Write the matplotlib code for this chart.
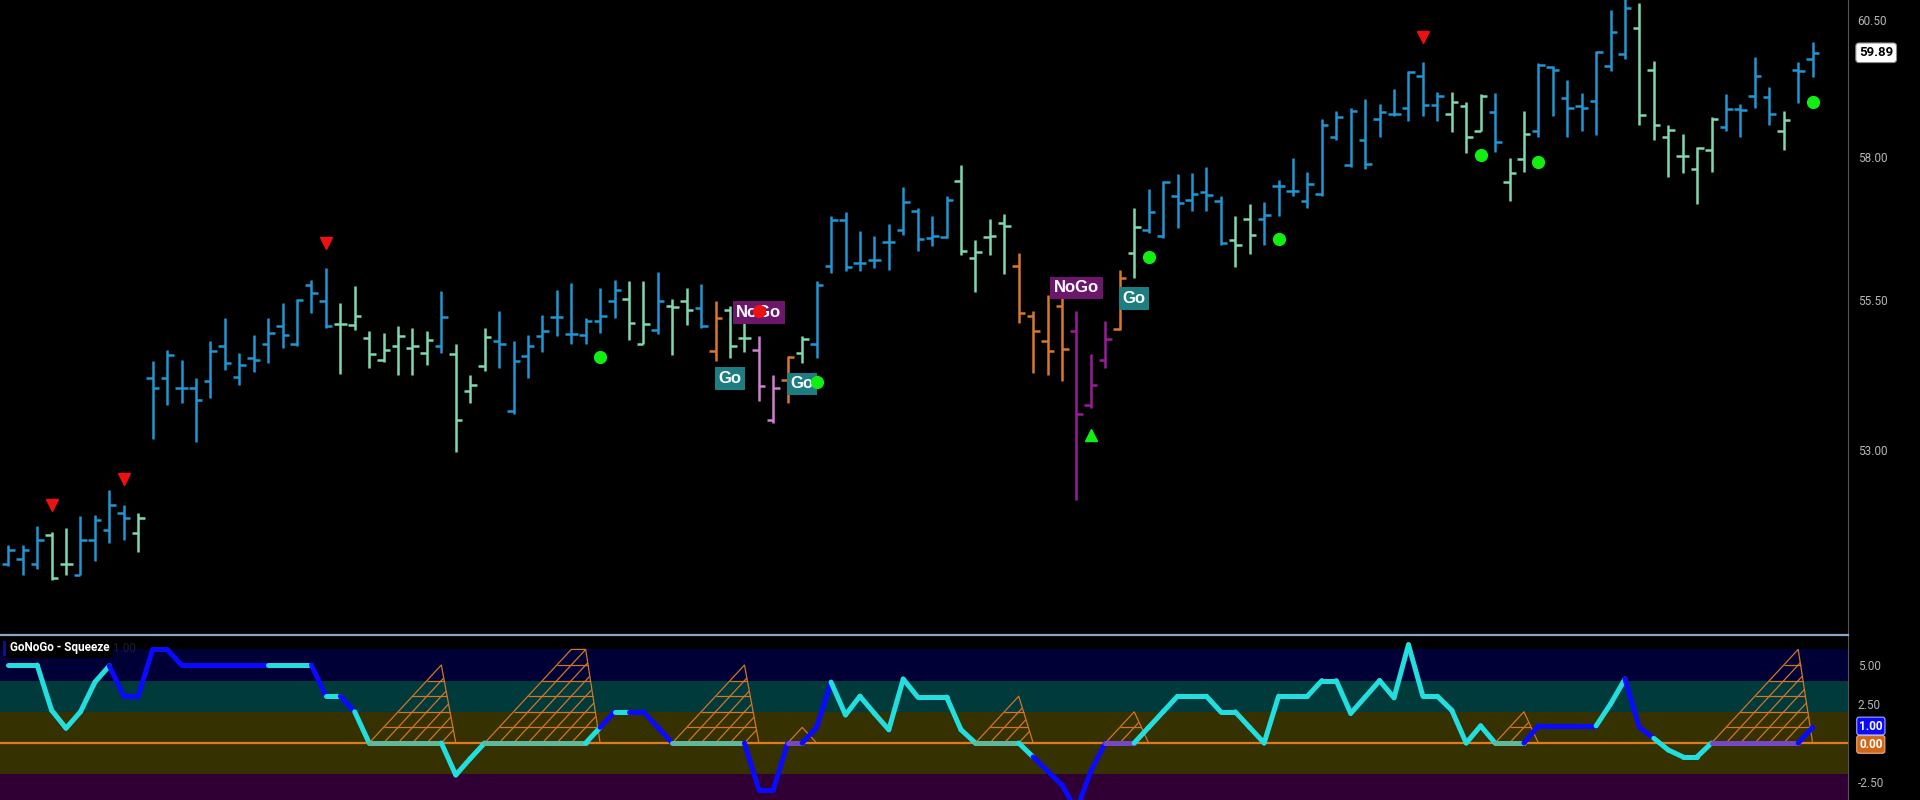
import matplotlib.pyplot as plt
import numpy as np
from matplotlib.collections import LineCollection
from matplotlib.lines import Line2D
from matplotlib.patches import Rectangle
from matplotlib.ticker import FixedLocator, FormatStrFormatter, NullLocator

plt.rcParams['font.family'] = ['Roboto', 'DejaVu Sans']

# --- price bars (one per session) ---
opens = [51.17, 51.26, 51.17, 51.63, 51.17, 51.01, 51.55, 51.71, 51.98, 51.66,
         54.19, 54.19, 54.02, 54.02, 54.14, 54.73, 54.21, 54.53, 54.75, 55.06,
         54.76, 55.76, 55.48, 55.10, 55.08, 54.86, 54.49, 54.73, 54.69, 54.61,
         54.73, 54.59, 53.97, 54.39, 54.81, 53.64, 54.56, 54.90, 55.21, 54.93,
         54.91, 55.15, 55.48, 55.53, 54.76, 55.00, 55.40, 55.48, 55.37, 54.64,
         55.33, 54.86, 54.66, 53.49, 54.16, 54.61, 54.75, 56.09, 56.88, 56.14,
         56.19, 56.50, 56.71, 57.05, 56.57, 56.59, 57.57, 56.22, 56.59, 56.83,
         56.09, 55.23, 54.81, 55.40, 54.98, 53.74, 54.49, 55.01, 56.31, 56.71,
         56.60, 57.31, 57.24, 57.38, 57.22, 56.53, 56.90, 56.91, 57.48, 57.40,
         57.22, 57.34, 58.35, 57.85, 58.31, 58.68, 58.77, 58.88, 59.46, 58.93,
         58.78, 58.91, 58.47, 58.80, 57.55, 57.96, 58.47, 59.62, 59.06, 58.91,
         59.00, 59.64, 59.86, 60.35, 59.57, 58.36, 58.02, 57.78, 58.13, 58.53,
         58.86, 59.09, 59.08, 58.46, 59.57, 59.77]
highs = [51.47, 51.47, 51.77, 51.68, 51.74, 51.93, 51.96, 52.36, 52.12, 51.98,
         54.48, 54.66, 54.49, 54.19, 54.81, 55.20, 54.61, 54.91, 55.20, 55.45,
         55.53, 55.84, 56.05, 55.45, 55.74, 54.98, 54.95, 55.06, 55.03, 54.98,
         55.66, 54.76, 54.24, 55.03, 55.32, 54.81, 54.91, 55.25, 55.67, 55.79,
         55.20, 55.71, 55.84, 55.83, 55.83, 55.98, 55.53, 55.71, 55.78, 55.48,
         55.40, 55.20, 54.90, 54.24, 54.56, 54.90, 55.83, 56.95, 57.03, 56.69,
         56.60, 56.81, 57.47, 57.10, 56.95, 57.31, 57.86, 56.53, 56.91, 57.00,
         56.31, 55.32, 55.59, 55.67, 55.32, 54.59, 55.15, 56.02, 57.09, 57.43,
         57.57, 57.69, 57.72, 57.83, 57.31, 56.95, 57.17, 57.21, 57.60, 57.98,
         57.74, 58.68, 58.82, 58.89, 59.04, 58.95, 59.22, 59.55, 59.72, 59.17,
         59.17, 58.99, 59.13, 59.15, 57.98, 58.82, 59.70, 59.64, 59.39, 59.15,
         59.92, 60.68, 60.95, 60.81, 59.73, 58.57, 58.42, 58.18, 58.71, 59.13,
         58.95, 59.82, 59.26, 58.82, 59.72, 60.08]
lows = [51.14, 51.01, 51.09, 50.93, 51.01, 51.01, 51.22, 51.50, 51.55, 51.36,
        53.18, 53.74, 53.77, 53.13, 53.86, 54.33, 54.07, 54.29, 54.44, 54.69,
        54.73, 55.28, 55.03, 54.26, 55.00, 54.36, 54.46, 54.24, 54.24, 54.41,
        54.61, 52.97, 53.77, 54.31, 54.36, 53.60, 54.19, 54.63, 54.90, 54.75,
        54.75, 54.95, 55.20, 54.83, 54.75, 54.93, 54.58, 55.08, 55.03, 54.48,
        54.53, 54.63, 53.81, 53.44, 53.77, 54.44, 54.53, 55.97, 56.00, 56.00,
        56.05, 56.02, 56.62, 56.35, 56.43, 56.57, 56.28, 55.64, 56.28, 55.95,
        55.11, 54.28, 54.24, 54.14, 52.20, 53.69, 54.36, 55.00, 55.88, 56.66,
        56.57, 56.74, 57.05, 57.05, 56.45, 56.07, 56.29, 56.45, 56.95, 57.31,
        57.09, 57.31, 58.31, 57.82, 57.78, 58.36, 58.73, 58.64, 58.73, 58.64,
        58.44, 58.07, 58.46, 58.09, 57.22, 57.73, 58.36, 58.73, 58.36, 58.47,
        58.40, 59.55, 59.77, 58.57, 58.31, 57.65, 57.71, 57.16, 57.73, 58.46,
        58.36, 58.89, 58.57, 58.13, 58.97, 59.44]
closes = [51.39, 51.39, 51.55, 50.95, 51.17, 51.55, 51.88, 52.12, 51.90, 51.90,
          54.02, 54.58, 54.02, 53.82, 54.64, 54.44, 54.41, 54.49, 54.95, 54.91,
          55.50, 55.62, 55.06, 55.10, 55.23, 54.59, 54.66, 54.90, 54.73, 54.83,
          55.21, 53.49, 54.07, 54.88, 54.75, 54.48, 54.73, 54.98, 55.21, 54.93,
          55.15, 55.23, 55.67, 55.11, 55.10, 55.48, 55.38, 55.33, 55.06, 55.20,
          54.73, 54.86, 54.06, 54.02, 54.54, 54.85, 55.76, 56.88, 56.07, 56.14,
          56.19, 56.50, 57.21, 56.55, 56.60, 57.24, 56.35, 56.33, 56.60, 56.79,
          55.28, 54.98, 54.64, 54.68, 53.60, 54.07, 54.85, 55.88, 56.76, 57.02,
          57.55, 57.19, 57.35, 57.33, 56.48, 56.45, 56.62, 56.98, 57.48, 57.40,
          57.52, 58.58, 58.71, 58.82, 57.87, 58.80, 58.77, 59.53, 58.93, 59.09,
          58.99, 58.35, 59.09, 58.26, 57.72, 58.42, 59.66, 59.57, 58.88, 58.89,
          59.90, 60.28, 60.72, 58.75, 58.58, 58.49, 58.02, 58.16, 58.69, 58.86,
          58.84, 59.46, 58.78, 58.66, 59.55, 59.89]
# GoNoGo trend per bar: B strong go, G weak go, O weak nogo, P/M nogo
trend = ("BBBGGBBBBG" "BBBBBBBBBBBBBGGGGGGGB" "GGGBBBBBBBBBGGBGGBOGGPPOG"
         "BBBBBBBBBBGGGGOOOOMMMOG" "BBBBBBGGBBBBBBBBBBBBBGGGBGG"
         "BBBBBBBGGGGGGBBBBGBB")

# signals
down_idx = [3, 8, 22, 98]
down_px = [52.12, 52.53, 56.48, 60.19]
nogo_dot_idx = [52]
nogo_dot_px = [55.32]
go_dot_idx = [41, 56, 79, 88, 102, 106, 125]
go_dot_px = [54.54, 54.12, 56.24, 56.55, 58.04, 57.91, 58.99]
up_idx = [75]
up_px = [53.24]
tag_text = ["NoGo", "Go", "Go", "NoGo", "Go"]
tag_idx = [52.0, 50.0, 55.0, 74.0, 78.0]
tag_px = [55.29, 54.18, 54.09, 55.71, 55.53]

# --- oscillator panel ---
osc = [5.0, 5.0, 5.0, 2.1, 0.95, 2.0, 3.9, 4.95, 3.0, 3.0,
       6.0, 6.0, 5.0, 5.0, 5.0, 5.0, 5.0, 5.0, 5.0, 5.0,
       5.0, 5.0, 3.0, 3.0, 2.0, 0.0, 0.0, 0.0, 0.0, 0.0,
       0.0, -2.05, -1.0, 0.0, 0.0, 0.0, 0.0, 0.0, 0.0, 0.0,
       0.0, 1.0, 2.0, 2.0, 2.0, 1.0, 0.0, 0.0, 0.0, 0.0,
       0.0, 0.0, -3.0, -3.0, 0.0, 0.0, 1.0, 3.9, 1.8, 3.0,
       1.9, 0.85, 4.1, 2.95, 2.95, 2.95, 0.85, 0.0, 0.0, 0.0,
       0.0, -0.9, -1.8, -2.7, -4.3, -1.8, 0.0, 0.0, 0.0, 1.0,
       2.0, 3.0, 3.0, 3.0, 2.0, 2.0, 1.0, 0.0, 3.0, 3.0,
       3.0, 4.0, 4.0, 1.9, 2.95, 4.0, 2.9, 6.3, 3.0, 3.0,
       2.1, 0.0, 1.1, 0.0, 0.0, 0.0, 1.1, 1.1, 1.1, 1.1,
       1.1, 2.5, 4.1, 1.0, 0.3, -0.45, -0.88, -0.88, 0.0, 0.0,
       0.0, 0.0, 0.0, 0.0, 0.0, 1.0]
osc_trend = ("cccccccc" "bbbbbbbbbbb" "ccc" "b" "c" "b" "ccccccccccccccccc" "b" "c"
             "bbb" "ccccc" "bbbbbb" "cccccccccccccc" "bbbbbbb"
             "ccccccccccccccccccccccccccc" "bbbbb" "cc" "bb" "cccc" "bbbbbbb")
squeeze = [0, 0, 0, 0, 0, 0, 0, 0, 0, 0,
           0, 0, 0, 0, 0, 0, 0, 0, 0, 0,
           0, 0, 0, 0, 0, 0, 1, 2, 3, 4,
           5, 0, 0, 0, 1, 2, 3, 4, 5, 6,
           6, 0, 0, 0, 0, 0, 0, 1, 2, 3,
           4, 5, 0, 0, 0, 1, 0, 0, 0, 0,
           0, 0, 0, 0, 0, 0, 0, 0, 1, 2,
           3, 0, 0, 0, 0, 0, 0, 1, 2, 0,
           0, 0, 0, 0, 0, 0, 0, 0, 0, 0,
           0, 0, 0, 0, 0, 0, 0, 0, 0, 0,
           0, 0, 0, 0, 1, 2, 0, 0, 0, 0,
           0, 0, 0, 0, 0, 0, 0, 0, 0, 1,
           2, 3, 4, 5, 6, 0]

price_ticks = [53.0, 55.5, 58.0, 60.5]
osc_ticks = [-2.5, 2.5, 5.0]

bar_colors = {'B': '#1f97d4', 'G': '#80d8b0', 'O': '#d8782a',
              'P': '#d080d0', 'M': '#9b1c9b'}
line_colors = {'c': '#22dede', 'b': '#0a0aff'}
flat_colors = {'c': '#5fb89c', 'b': '#7448c4'}
sq_color = '#d07628'
axis_gray = '#b5b5b5'

fig = plt.figure(figsize=(19.2, 8), dpi=100, facecolor='black')
ax = fig.add_axes([0, 0.20625, 0.9625, 0.79375])
ax2 = fig.add_axes([0, 0, 0.9625, 0.205])
xlim = (-0.575, 127.45)

for a in (ax, ax2):
    a.set_facecolor('black')
    for side in ('top', 'left', 'bottom'):
        a.spines[side].set_visible(False)
    a.spines['right'].set_color('#555555')
    a.set_xlim(*xlim)
    a.xaxis.set_major_locator(NullLocator())
    a.yaxis.tick_right()
    a.tick_params(axis='y', colors=axis_gray, labelsize=8.5, length=0, pad=7)

# price bars
x = np.arange(len(opens))
cols = [bar_colors[t] for t in trend]
ax.set_yscale('log')
ax.vlines(x, lows, highs, colors=cols, lw=1.8)
ax.hlines(opens, x - 0.45, x, colors=cols, lw=1.8)
ax.hlines(closes, x, x + 0.45, colors=cols, lw=1.8)
ax.set_ylim(50.07, 60.87)
ax.yaxis.set_major_locator(FixedLocator(price_ticks))
ax.yaxis.set_minor_locator(NullLocator())
ax.yaxis.set_major_formatter(FormatStrFormatter('%.2f'))
ax.yaxis.set_minor_formatter(plt.NullFormatter())

for t, xi, p in zip(tag_text, tag_idx, tag_px):
    fc = '#6c176c' if t == 'NoGo' else '#1e7d80'
    ax.text(xi, p, t, color='white', fontsize=12, fontweight='bold',
            family=['Liberation Sans', 'DejaVu Sans'], ha='center', va='center',
            zorder=5, bbox=dict(boxstyle='square,pad=0.22', fc=fc, ec='none'))

ax.plot(down_idx, down_px, 'v', color='#ee1111', ms=9, zorder=6)
ax.plot(up_idx, up_px, '^', color='#11ee11', ms=9, zorder=6)
ax.plot(go_dot_idx, go_dot_px, 'o', color='#11ee11', ms=8.5, zorder=6)
ax.plot(nogo_dot_idx, nogo_dot_px, 'o', color='#ee1111', ms=8.5, zorder=6)

ax.annotate(f"{closes[-1]:.2f}", xy=(1, closes[-1]), xycoords=('axes fraction', 'data'),
            xytext=(8, 0), textcoords='offset points', ha='left', va='center',
            fontsize=9.5, fontweight='bold', color='black', annotation_clip=False,
            bbox=dict(boxstyle='round,pad=0.25', fc='white', ec='#888888', lw=0.8))

# oscillator panel
bands = [(6, 10, 'black'), (4, 6, '#000037'), (2, 4, '#003a3a'),
         (-2, 2, '#363100'), (-10, -2, '#300034')]
for lo, hi, c in bands:
    ax2.axhspan(lo, hi, color=c, lw=0, zorder=0)
ax2.set_ylim(-3.654, 6.86)
ax2.yaxis.set_major_locator(FixedLocator(osc_ticks))
ax2.yaxis.set_major_formatter(FormatStrFormatter('%.2f'))


def draw_squeeze(axis, levels):
    s = np.asarray(levels, float)
    n = len(s)
    i = 0
    while i < n:
        if s[i] <= 0:
            i += 1
            continue
        j = i
        while j + 1 < n and s[j + 1] > 0:
            j += 1
        a, b = max(i - 1, 0), min(j + 1, n - 1)
        top = s[j]
        segs = [list(zip(range(a, b + 1), s[a:b + 1]))]
        for k in range(1, int(top)):
            left = i + int(np.argmax(s[i:j + 1] >= k))
            segs.append([(left, k), (j + (top - k) / top, k)])
        for c in range(a + 1, j + 1):
            t = min((j - c + 1) * top / (top + 1), top)
            segs.append([(c, 0), (c + t, t)])
        axis.add_collection(LineCollection(segs, colors=sq_color, lw=0.9, zorder=2))
        i = j + 1


draw_squeeze(ax2, squeeze)
ax2.axhline(0, color='#e07a1e', lw=1.6, zorder=3)

segs, seg_cols = [], []
for k in range(1, len(osc)):
    segs.append([(k - 1, osc[k - 1]), (k, osc[k])])
    key = osc_trend[k]
    seg_cols.append(flat_colors[key] if osc[k - 1] == 0 and osc[k] == 0 else line_colors[key])
ax2.add_collection(LineCollection(segs, colors=seg_cols, lw=3.6, capstyle='round',
                                  joinstyle='round', zorder=4))

ax2.annotate(f"{osc[-1]:.2f}", xy=(1, osc[-1]), xycoords=('axes fraction', 'data'),
             xytext=(8, 1), textcoords='offset points', ha='left', va='center',
             fontsize=8.5, fontweight='bold', color='white', annotation_clip=False, zorder=7,
             bbox=dict(boxstyle='round,pad=0.2', fc='#0a0aff', ec='#aaaaff', lw=0.8))
ax2.annotate(f"{squeeze[-1]:.2f}", xy=(1, squeeze[-1]), xycoords=('axes fraction', 'data'),
             xytext=(8, -1), textcoords='offset points', ha='left', va='center',
             fontsize=8.5, fontweight='bold', color='white', annotation_clip=False, zorder=6,
             bbox=dict(boxstyle='round,pad=0.2', fc='#d0681a', ec='#f0b080', lw=0.8))

# panel title
fig.text(0.0052, 0.19, "GoNoGo - Squeeze", color='white', fontsize=8.5,
         fontweight='bold', va='center', ha='left',
         bbox=dict(boxstyle='square,pad=0.3', fc='black', ec='none'))
fig.text(0.059, 0.19, "1.00", color='#1c1c3c', fontsize=8.5, va='center', ha='left')
fig.add_artist(Rectangle((0.0015, 0.180), 0.0022, 0.019, transform=fig.transFigure,
                         fc='#10108a', ec='none'))

# separator between panels
fig.add_artist(Line2D([0, 0.9625], [0.2063, 0.2063], transform=fig.transFigure,
                      color='#8ea6c6', lw=1.6))

fig.savefig('out.png', dpi=100, facecolor='black')
